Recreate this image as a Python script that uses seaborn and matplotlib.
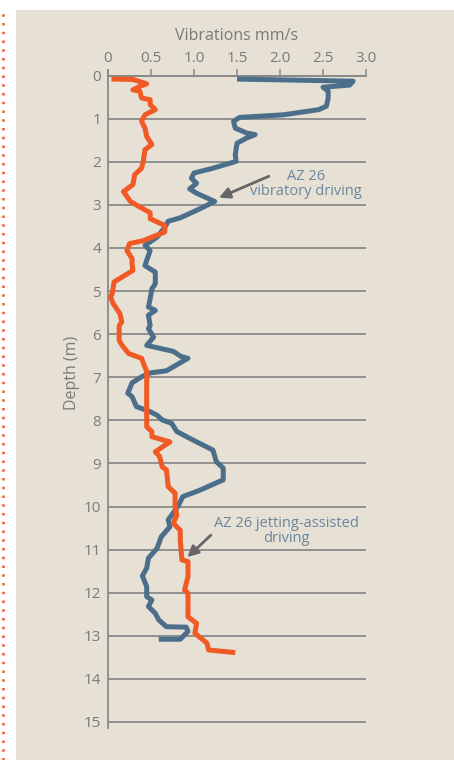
import matplotlib
matplotlib.use("Agg")
import matplotlib.pyplot as plt
import seaborn as sns
from matplotlib.patches import Rectangle
from matplotlib.lines import Line2D

# AZ 26 vibratory driving (blue)
vib_speed = [1.5, 2.85, 2.81, 2.5, 2.56, 2.56, 2.54, 2.45, 2.04, 1.53, 1.46, 1.48, 1.61, 1.71,
             1.61, 1.5, 1.48, 1.49, 1.22, 1.0, 0.97, 1.03, 0.95, 1.03, 1.24, 1.07, 0.84, 0.70,
             0.66, 0.57, 0.43, 0.49, 0.45, 0.43, 0.55, 0.55, 0.51, 0.49, 0.47, 0.55, 0.47, 0.49,
             0.47, 0.53, 0.45, 0.76, 0.85, 0.93, 0.68, 0.49, 0.39, 0.28, 0.23, 0.28, 0.33, 0.49,
             0.57, 0.63, 0.74, 0.8, 1.03, 1.22, 1.26, 1.34, 1.34, 1.07, 0.87, 0.82, 0.74, 0.70,
             0.72, 0.62, 0.57, 0.47, 0.45, 0.40, 0.45, 0.45, 0.51, 0.47, 0.55, 0.59, 0.68, 0.91,
             0.93, 0.84, 0.59]
vib_depth = [0.08, 0.13, 0.22, 0.27, 0.36, 0.52, 0.71, 0.79, 0.91, 0.97, 1.06, 1.22, 1.33, 1.37,
             1.45, 1.57, 1.84, 1.99, 2.15, 2.26, 2.38, 2.5, 2.63, 2.73, 2.92, 3.09, 3.3, 3.38,
             3.52, 3.75, 3.94, 4.06, 4.29, 4.41, 4.56, 4.83, 4.95, 5.18, 5.37, 5.45, 5.56, 5.8,
             5.87, 6.07, 6.26, 6.4, 6.52, 6.56, 6.85, 6.9, 6.99, 7.13, 7.37, 7.45, 7.68, 7.8,
             7.88, 7.99, 8.07, 8.26, 8.5, 8.69, 8.96, 9.11, 9.38, 9.62, 9.77, 9.97, 10.2, 10.31,
             10.47, 10.7, 10.97, 11.2, 11.43, 11.61, 11.86, 12.09, 12.17, 12.32, 12.48, 12.63, 12.79, 12.8,
             12.9, 13.08, 13.08]

# AZ 26 jetting-assisted driving (orange)
jet_speed = [0.04, 0.29, 0.45, 0.37, 0.29, 0.37, 0.39, 0.49, 0.49, 0.55, 0.43, 0.39, 0.43, 0.45,
             0.51, 0.43, 0.41, 0.39, 0.31, 0.29, 0.18, 0.26, 0.37, 0.49, 0.49, 0.66, 0.66, 0.41,
             0.25, 0.22, 0.28, 0.28, 0.29, 0.07, 0.05, 0.03, 0.06, 0.14, 0.16, 0.13, 0.13, 0.16,
             0.24, 0.39, 0.45, 0.45, 0.45, 0.51, 0.51, 0.72, 0.55, 0.6, 0.63, 0.68, 0.7, 0.78,
             0.78, 0.8, 0.76, 0.84, 0.84, 0.86, 0.93, 0.93, 0.89, 0.93, 0.93, 1.03, 1.01, 1.15,
             1.17, 1.48]
jet_depth = [0.08, 0.09, 0.19, 0.25, 0.33, 0.36, 0.52, 0.56, 0.67, 0.79, 0.91, 1.06, 1.22, 1.41,
             1.6, 1.72, 1.99, 2.15, 2.3, 2.53, 2.69, 2.92, 3.05, 3.18, 3.32, 3.48, 3.63, 3.83,
             3.9, 4.06, 4.25, 4.37, 4.52, 4.79, 5.06, 5.14, 5.29, 5.53, 5.72, 5.8, 6.14, 6.25,
             6.45, 6.56, 6.87, 7.92, 8.15, 8.26, 8.38, 8.5, 8.73, 8.84, 9.08, 9.15, 9.54, 9.69,
             10.0, 10.2, 10.39, 10.55, 10.78, 11.24, 11.28, 11.63, 11.94, 12.01, 12.56, 12.71, 12.94, 13.17,
             13.33, 13.39]

x_ticks = [0, 0.5, 1.0, 1.5, 2.0, 2.5, 3.0]
x_labels = ["0", "0.5", "1.0", "1.5", "2.0", "2.5", "3.0"]
y_ticks = list(range(0, 16))

BLUE = "#4b6f8a"
ORANGE = "#f15a24"
GREY = "#8a8a8a"
TEXT = "#7a7a7a"
NOTE = "#6a879c"
PANEL = "#e6e0d5"

sns.set_style("white")
plt.rcParams["font.family"] = ["Open Sans", "DejaVu Sans"]

W, H = 454, 760
fig = plt.figure(figsize=(W / 100, H / 100), dpi=100)
fig.patch.set_facecolor("white")

# beige panel and dotted margin line
fig.add_artist(Rectangle((16 / W, 0), 1 - 16 / W, 1 - 10 / H, transform=fig.transFigure,
                         facecolor=PANEL, edgecolor="none", zorder=-5))
fig.add_artist(Line2D([2.5 / W, 2.5 / W], [0, 1 - 12 / H], transform=fig.transFigure,
                      color=ORANGE, lw=1.8, linestyle=(0, (1, 2.5)), zorder=-4))

ax = fig.add_axes([108 / W, 1 - 728 / H, 258 / W, 658 / H])
ax.set_facecolor("none")

sns.lineplot(x=vib_speed, y=vib_depth, sort=False, estimator=None, ax=ax,
             color=BLUE, lw=3.6, solid_joinstyle="round", solid_capstyle="butt", zorder=3)
sns.lineplot(x=jet_speed, y=jet_depth, sort=False, estimator=None, ax=ax,
             color=ORANGE, lw=3.6, solid_joinstyle="round", solid_capstyle="butt", zorder=4)

ax.set_xlim(0, 3)
ax.set_ylim(15.14, -0.13)

ax.xaxis.tick_top()
ax.xaxis.set_label_position("top")
ax.set_xticks(x_ticks)
ax.set_xticklabels(x_labels)
ax.set_yticks(y_ticks)
ax.set_yticklabels([str(v) for v in y_ticks])

for side in ["right", "bottom"]:
    ax.spines[side].set_visible(False)
ax.spines["top"].set_position(("data", 0))
ax.spines["top"].set_color(GREY)
ax.spines["top"].set_linewidth(1.3)
ax.spines["left"].set_color(GREY)
ax.spines["left"].set_linewidth(1.3)

ax.grid(axis="y", color=GREY, lw=1.3)
ax.grid(axis="x", visible=False)
ax.tick_params(axis="x", direction="out", length=5, width=1.1, color=GREY,
               labelsize=11, labelcolor=TEXT, pad=2)
ax.tick_params(axis="y", direction="out", length=4, width=1.1, color=GREY,
               labelsize=11, labelcolor=TEXT, pad=1)

ax.set_xlabel("Vibrations mm/s", fontsize=11.5, color=TEXT, labelpad=8)
ax.set_ylabel("Depth (m)", fontsize=11.5, color=TEXT)
ax.yaxis.set_label_coords(-0.11, 0.54)

# annotations
ax.annotate("", xy=(1.26, 2.86), xytext=(1.90, 2.31),
            arrowprops=dict(arrowstyle="-|>", color="#666666", lw=2, mutation_scale=16))
ax.text(2.30, 2.52, "AZ 26\nvibratory driving", ha="center", va="center",
        fontsize=10.5, color=NOTE, linespacing=1.0)

ax.annotate("", xy=(0.90, 11.22), xytext=(1.22, 10.62),
            arrowprops=dict(arrowstyle="-|>", color="#666666", lw=2, mutation_scale=16))
ax.text(2.07, 10.57, "AZ 26 jetting-assisted\ndriving", ha="center", va="center",
        fontsize=10.5, color=NOTE, linespacing=1.0)

fig.savefig("out.png", dpi=100)
